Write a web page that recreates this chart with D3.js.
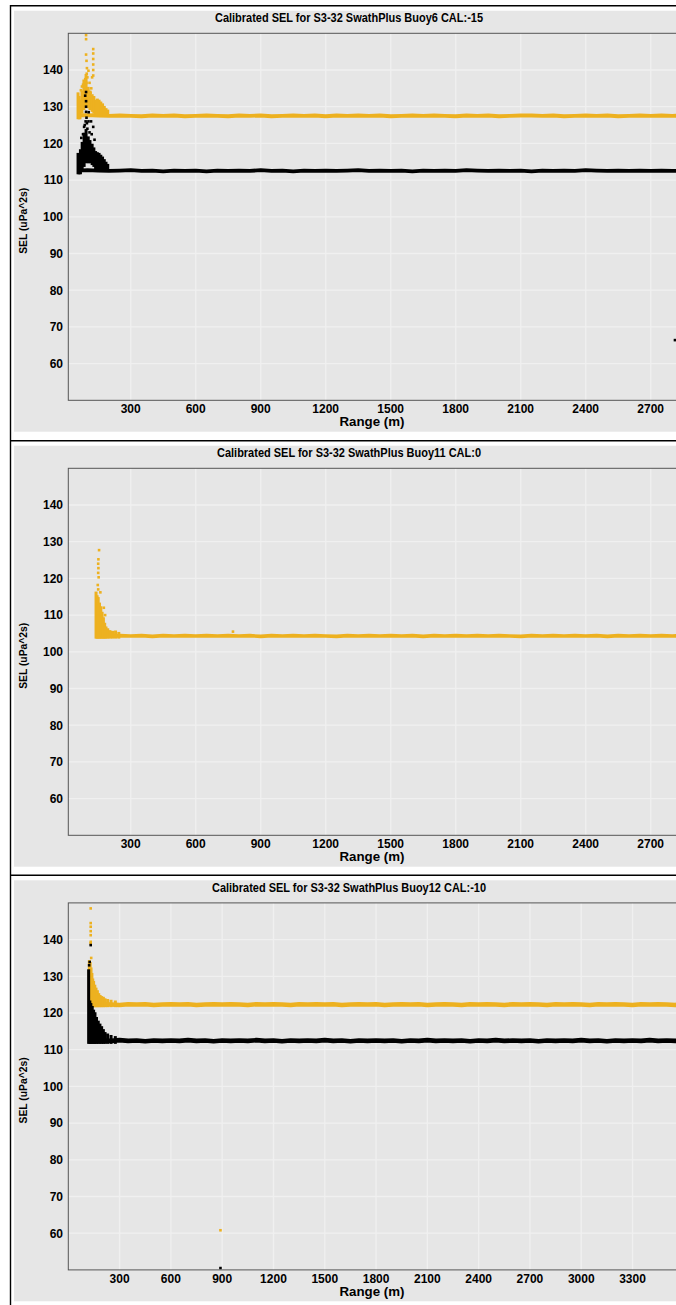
<!DOCTYPE html>
<html><head><meta charset="utf-8">
<script src="https://cdn.jsdelivr.net/npm/d3@7"></script>
<style>
body{margin:0;background:#fff;}
svg{display:block;}
text{font-family:"Liberation Sans",Arial,sans-serif;font-weight:bold;fill:#000;}
</style>
</head><body>
<svg id="c" width="676" height="1305"></svg>
<script>
// ---------- tick labels / texts ----------
const yTicks = [60,70,80,90,100,110,120,130,140];
const xTicksA = [300,600,900,1200,1500,1800,2100,2400,2700];
const xTicksB = [300,600,900,1200,1500,1800,2100,2400,2700,3000,3300];
const titles = ["Calibrated SEL for S3-32 SwathPlus Buoy6 CAL:-15",
                "Calibrated SEL for S3-32 SwathPlus Buoy11 CAL:0",
                "Calibrated SEL for S3-32 SwathPlus Buoy12 CAL:-10"];
const xLabel = "Range (m)";
const yLabel = "SEL (uPa^2s)";
const xDomains = [[12,2826],[12,2826],[0,3566]];
const yDomain = [50,150];

// ---------- Panel 1 (Buoy6) ----------
const p1YellowBand = [[57,127.6],[100,127.7],[150,127.6],[200,127.5],[250,127.6],[300,127.5],[350,127.4],[400,127.6],[450,127.5],[500,127.6],[550,127.4],[600,127.5],[650,127.6],[700,127.5],[750,127.4],[800,127.6],[850,127.5],[900,127.6],[950,127.4],[1000,127.5],[1050,127.6],[1100,127.5],[1150,127.6],[1200,127.4],[1250,127.6],[1300,127.5],[1350,127.6],[1400,127.5],[1450,127.6],[1500,127.4],[1550,127.5],[1600,127.6],[1650,127.5],[1700,127.6],[1750,127.5],[1800,127.4],[1850,127.6],[1900,127.5],[1950,127.6],[2000,127.4],[2050,127.5],[2100,127.6],[2150,127.6],[2200,127.5],[2250,127.6],[2300,127.4],[2350,127.5],[2400,127.6],[2450,127.5],[2500,127.6],[2550,127.4],[2600,127.5],[2650,127.6],[2700,127.5],[2750,127.6],[2800,127.5],[2850,127.6]];
const p1YellowCols = [[57,127,133.5],[62,127,132.5],[66,127,131.5],[75,128.5,134],[84,129.5,137],[94,130,138.5],[104,130,135],[112,129.5,134],[122,129,133],[130,128.5,132.5],[138,128,131.5],[146,128,131.8],[154,128,131.5],[162,128,131],[170,128,130.5],[178,128,129.8],[186,128,129.2],[194,128,128.8]];
const p1YellowDots = [[94,149.5],[94,148.4],[127,145.7],[127,144.5],[127,143],[127,141.5],[127,140],[127,138.5],[94,144.2],[96,142.5],[98,140.5],[97,139],[100,138],[96,136.5],[88,135.5],[80,136],[110,136.5],[118,135],[122,138],[105,139.8],[90,137.5],[75,135.5],[70,134.5],[115,133.8]];
const p1BlackBand = [[57,112.6],[100,112.7],[150,112.6],[200,112.5],[250,112.6],[300,112.7],[350,112.5],[400,112.6],[450,112.4],[500,112.6],[550,112.5],[600,112.6],[650,112.4],[700,112.6],[750,112.5],[800,112.6],[850,112.5],[900,112.7],[950,112.5],[1000,112.6],[1050,112.4],[1100,112.6],[1150,112.5],[1200,112.6],[1250,112.5],[1300,112.6],[1350,112.7],[1400,112.5],[1450,112.6],[1500,112.5],[1550,112.6],[1600,112.4],[1650,112.6],[1700,112.5],[1750,112.6],[1800,112.5],[1850,112.7],[1900,112.6],[1950,112.5],[2000,112.6],[2050,112.5],[2100,112.6],[2150,112.4],[2200,112.6],[2250,112.5],[2300,112.6],[2350,112.5],[2400,112.7],[2450,112.6],[2500,112.5],[2550,112.6],[2600,112.5],[2650,112.6],[2700,112.5],[2750,112.6],[2800,112.5],[2850,112.6]];
const p1BlackCols = [[57,112,117],[62,112,115.5],[68,112,118],[76,113,120],[85,114,122.5],[94,115,123.5],[104,115,121.5],[112,115,120.5],[122,114.5,119.5],[130,114,118.5],[138,113,117.5],[146,113,117.2],[154,113,117],[162,113,116.5],[170,113,116],[178,113,115.3],[186,113,114.6],[194,113,114]];
const p1BlackDots = [[94,134],[90,133],[94,131.5],[94,130],[94,128.6],[96,127],[92,126],[88,125],[98,125.5],[100,124],[106,128.5],[105,126],[117,126],[127,124.5],[110,123],[85,124.5],[80,122.5],[120,122.5],[133,121],[72,121.5],[2812,66.4]];

// ---------- Panel 2 (Buoy11) ----------
const p2YellowBand = [[140,104.5],[170,104.4],[200,104.3],[250,104.4],[300,104.3],[350,104.4],[400,104.2],[450,104.4],[500,104.3],[550,104.4],[600,104.3],[650,104.4],[700,104.3],[750,104.4],[800,104.3],[850,104.4],[900,104.2],[950,104.4],[1000,104.3],[1050,104.4],[1100,104.3],[1150,104.4],[1200,104.3],[1250,104.2],[1300,104.4],[1350,104.3],[1400,104.4],[1450,104.3],[1500,104.4],[1550,104.3],[1600,104.4],[1650,104.2],[1700,104.4],[1750,104.3],[1800,104.4],[1850,104.3],[1900,104.4],[1950,104.3],[2000,104.4],[2050,104.3],[2100,104.2],[2150,104.4],[2200,104.3],[2250,104.4],[2300,104.3],[2350,104.4],[2400,104.3],[2450,104.4],[2500,104.2],[2550,104.4],[2600,104.3],[2650,104.4],[2700,104.3],[2750,104.4],[2800,104.3],[2850,104.4]];
const p2YellowCols = [[140,104,116],[145,104,115],[150,104,114.5],[156,104,113],[162,104,112],[168,104,110.5],[174,104,109],[180,104,107.5],[186,104,106.5],[194,104,106],[204,104,105.5],[216,104,105.3],[230,104,105.4],[245,104,105]];
const p2YellowDots = [[154,127.7],[151,125.2],[150,124],[151,122.8],[150,121.5],[152,120.3],[148,118.2],[150,117],[160,116.2],[176,112],[182,110],[772,105.5]];

// ---------- Panel 3 (Buoy12) ----------
const p3YellowBand = [[123,122.4],[150,122.3],[200,122.4],[250,122.3],[300,122.2],[350,122.4],[400,122.3],[450,122.4],[500,122.2],[550,122.3],[600,122.4],[650,122.3],[700,122.4],[750,122.2],[800,122.3],[850,122.4],[900,122.3],[950,122.4],[1000,122.3],[1050,122.2],[1100,122.4],[1150,122.3],[1200,122.4],[1250,122.3],[1300,122.2],[1350,122.4],[1400,122.3],[1450,122.4],[1500,122.3],[1550,122.4],[1600,122.2],[1650,122.3],[1700,122.4],[1750,122.3],[1800,122.4],[1850,122.2],[1900,122.3],[1950,122.4],[2000,122.3],[2050,122.4],[2100,122.2],[2150,122.3],[2200,122.4],[2250,122.3],[2300,122.2],[2350,122.4],[2400,122.3],[2450,122.4],[2500,122.3],[2550,122.2],[2600,122.4],[2650,122.3],[2700,122.4],[2750,122.3],[2800,122.2],[2850,122.4],[2900,122.3],[2950,122.4],[3000,122.3],[3050,122.2],[3100,122.4],[3150,122.3],[3200,122.4],[3250,122.3],[3300,122.2],[3350,122.4],[3400,122.3],[3450,122.4],[3500,122.3],[3550,122.2],[3600,122.3]];
const p3YellowCols = [[123,122,134],[128,122,133.5],[133,122,132],[138,122,130.5],[143,122,129],[148,122,128.3],[155,122,127.3],[162,122,126.5],[170,122,125.8],[178,122,125],[186,122,124.5],[195,122,124.2],[205,122,124],[215,122,123.6],[230,122,123.4],[250,122,123.2],[275,122,123]];
const p3YellowDots = [[131,148.5],[131,144.5],[131,143.5],[131,142.3],[131,141.2],[131,139.4],[131,139],[134,135],[890,60.8]];
const p3BlackBand = [[120,112.5],[150,112.4],[200,112.5],[250,112.4],[300,112.6],[350,112.4],[400,112.5],[450,112.3],[500,112.5],[550,112.4],[600,112.5],[650,112.4],[700,112.6],[750,112.4],[800,112.5],[850,112.3],[900,112.5],[950,112.4],[1000,112.5],[1050,112.4],[1100,112.6],[1150,112.4],[1200,112.5],[1250,112.3],[1300,112.5],[1350,112.4],[1400,112.5],[1450,112.4],[1500,112.6],[1550,112.4],[1600,112.5],[1650,112.3],[1700,112.5],[1750,112.4],[1800,112.5],[1850,112.4],[1900,112.5],[1950,112.3],[2000,112.5],[2050,112.4],[2100,112.6],[2150,112.4],[2200,112.5],[2250,112.4],[2300,112.5],[2350,112.3],[2400,112.5],[2450,112.4],[2500,112.6],[2550,112.4],[2600,112.5],[2650,112.4],[2700,112.5],[2750,112.3],[2800,112.5],[2850,112.4],[2900,112.5],[2950,112.4],[3000,112.6],[3050,112.4],[3100,112.5],[3150,112.3],[3200,112.5],[3250,112.4],[3300,112.5],[3350,112.4],[3400,112.6],[3450,112.4],[3500,112.5],[3550,112.4],[3600,112.5]];
const p3BlackCols = [[119,112,131.5],[126,112,123],[132,112,122.3],[140,112,121.5],[148,112,120.5],[156,112,119.8],[165,112,118.5],[175,112,117.5],[185,112,116.7],[195,112,116],[205,112,115.2],[215,112,114.4],[230,112,114],[250,112,113.6],[275,112,113.3]];
const p3BlackDots = [[125,133.9],[122,133],[131,138.5],[890,50.5]];

const colYellow = "#EDB120", colBlack = "#000000";

const panels = [
  {L:5.7, title:titles[0], tl:268, xd:xDomains[0], xt:xTicksA,
   series:[{c:colYellow,band:p1YellowBand,cols:p1YellowCols,dots:p1YellowDots},
           {c:colBlack,band:p1BlackBand,cols:p1BlackCols,dots:p1BlackDots}], sw:3.8},
  {L:440.7, title:titles[1], tl:264, xd:xDomains[1], xt:xTicksA,
   series:[{c:colYellow,band:p2YellowBand,cols:p2YellowCols,dots:p2YellowDots}], sw:3.6},
  {L:875.3, title:titles[2], tl:274, xd:xDomains[2], xt:xTicksB,
   series:[{c:colYellow,band:p3YellowBand,cols:p3YellowCols,dots:p3YellowDots},
           {c:colBlack,band:p3BlackBand,cols:p3BlackCols,dots:p3BlackDots}], sw:4.6}
];

const svg = d3.select("#c");
svg.append("rect").attr("width",676).attr("height",1305).attr("fill","#fff");

const plotL = 68.3, plotR = 678;

panels.forEach((p,i)=>{
  const top = p.L + 27.6, bot = p.L + 394.6;
  const g = svg.append("g");
  g.append("rect").attr("x",14).attr("y",p.L+5).attr("width",690).attr("height",421).attr("fill","#e6e6e6");
  const x = d3.scaleLinear().domain(p.xd).range([plotL, plotR]);
  const y = d3.scaleLinear().domain(yDomain).range([bot, top]);
  const clipId = "clip"+i;
  svg.append("clipPath").attr("id",clipId).append("rect")
    .attr("x",plotL).attr("y",top).attr("width",plotR-plotL).attr("height",bot-top);

  // grid
  g.selectAll(".hg").data(yTicks).enter().append("line")
    .attr("x1",plotL).attr("x2",plotR).attr("y1",d=>y(d)).attr("y2",d=>y(d))
    .attr("stroke","#f0f0f0").attr("stroke-width",1.3);
  g.selectAll(".vg").data(p.xt).enter().append("line")
    .attr("y1",top).attr("y2",bot).attr("x1",d=>x(d)).attr("x2",d=>x(d))
    .attr("stroke","#f0f0f0").attr("stroke-width",1.3);

  const pg = g.append("g").attr("clip-path",`url(#${clipId})`);
  const line = d3.line().x(d=>x(d[0])).y(d=>y(d[1]));
  p.series.forEach(s=>{
    if(s.band) pg.append("path").attr("d",line(s.band)).attr("fill","none")
      .attr("stroke",s.c).attr("stroke-width",p.sw).attr("stroke-linejoin","round");
    pg.selectAll(null).data(s.cols).enter().append("rect")
      .attr("x",d=>x(d[0])-1.5).attr("width",3)
      .attr("y",d=>y(d[2])-1.5).attr("height",d=>y(d[1])-y(d[2])+3)
      .attr("fill",s.c);
    pg.selectAll(null).data(s.dots).enter().append("rect")
      .attr("x",d=>x(d[0])-1.3).attr("y",d=>y(d[1])-1.3)
      .attr("width",2.6).attr("height",2.6).attr("fill",s.c);
  });

  // frame
  g.append("rect").attr("x",plotL).attr("y",top).attr("width",plotR-plotL).attr("height",bot-top)
    .attr("fill","none").attr("stroke","#555").attr("stroke-width",1);

  // axes labels
  g.selectAll(".yt").data(yTicks).enter().append("text")
    .attr("x",63).attr("y",d=>y(d)+4.3).attr("text-anchor","end")
    .attr("font-size","12px").text(d=>d);
  g.selectAll(".xt").data(p.xt).enter().append("text")
    .attr("x",d=>x(d)).attr("y",bot+12.7).attr("text-anchor","middle")
    .attr("font-size","12px").text(d=>d);
  g.append("text").attr("x",372).attr("y",bot+26).attr("text-anchor","middle")
    .attr("font-size","12px").attr("textLength",65).attr("lengthAdjust","spacingAndGlyphs").text(xLabel);
  g.append("text").attr("transform",`translate(26.5,${(top+bot)/2+4}) rotate(-90)`)
    .attr("text-anchor","middle").attr("font-size","11px")
    .attr("textLength",66).attr("lengthAdjust","spacingAndGlyphs").text(yLabel);
  g.append("text").attr("x",349).attr("y",p.L+16.7).attr("text-anchor","middle")
    .attr("font-size","12px").attr("textLength",p.tl).attr("lengthAdjust","spacingAndGlyphs").text(p.title);

  // black separator line
  svg.append("line").attr("x1",10.5).attr("x2",676).attr("y1",p.L).attr("y2",p.L)
    .attr("stroke","#000").attr("stroke-width",1.4);
});
svg.append("line").attr("x1",10.5).attr("x2",10.5).attr("y1",5).attr("y2",1305)
  .attr("stroke","#000").attr("stroke-width",1.4);
</script>
</body></html>
